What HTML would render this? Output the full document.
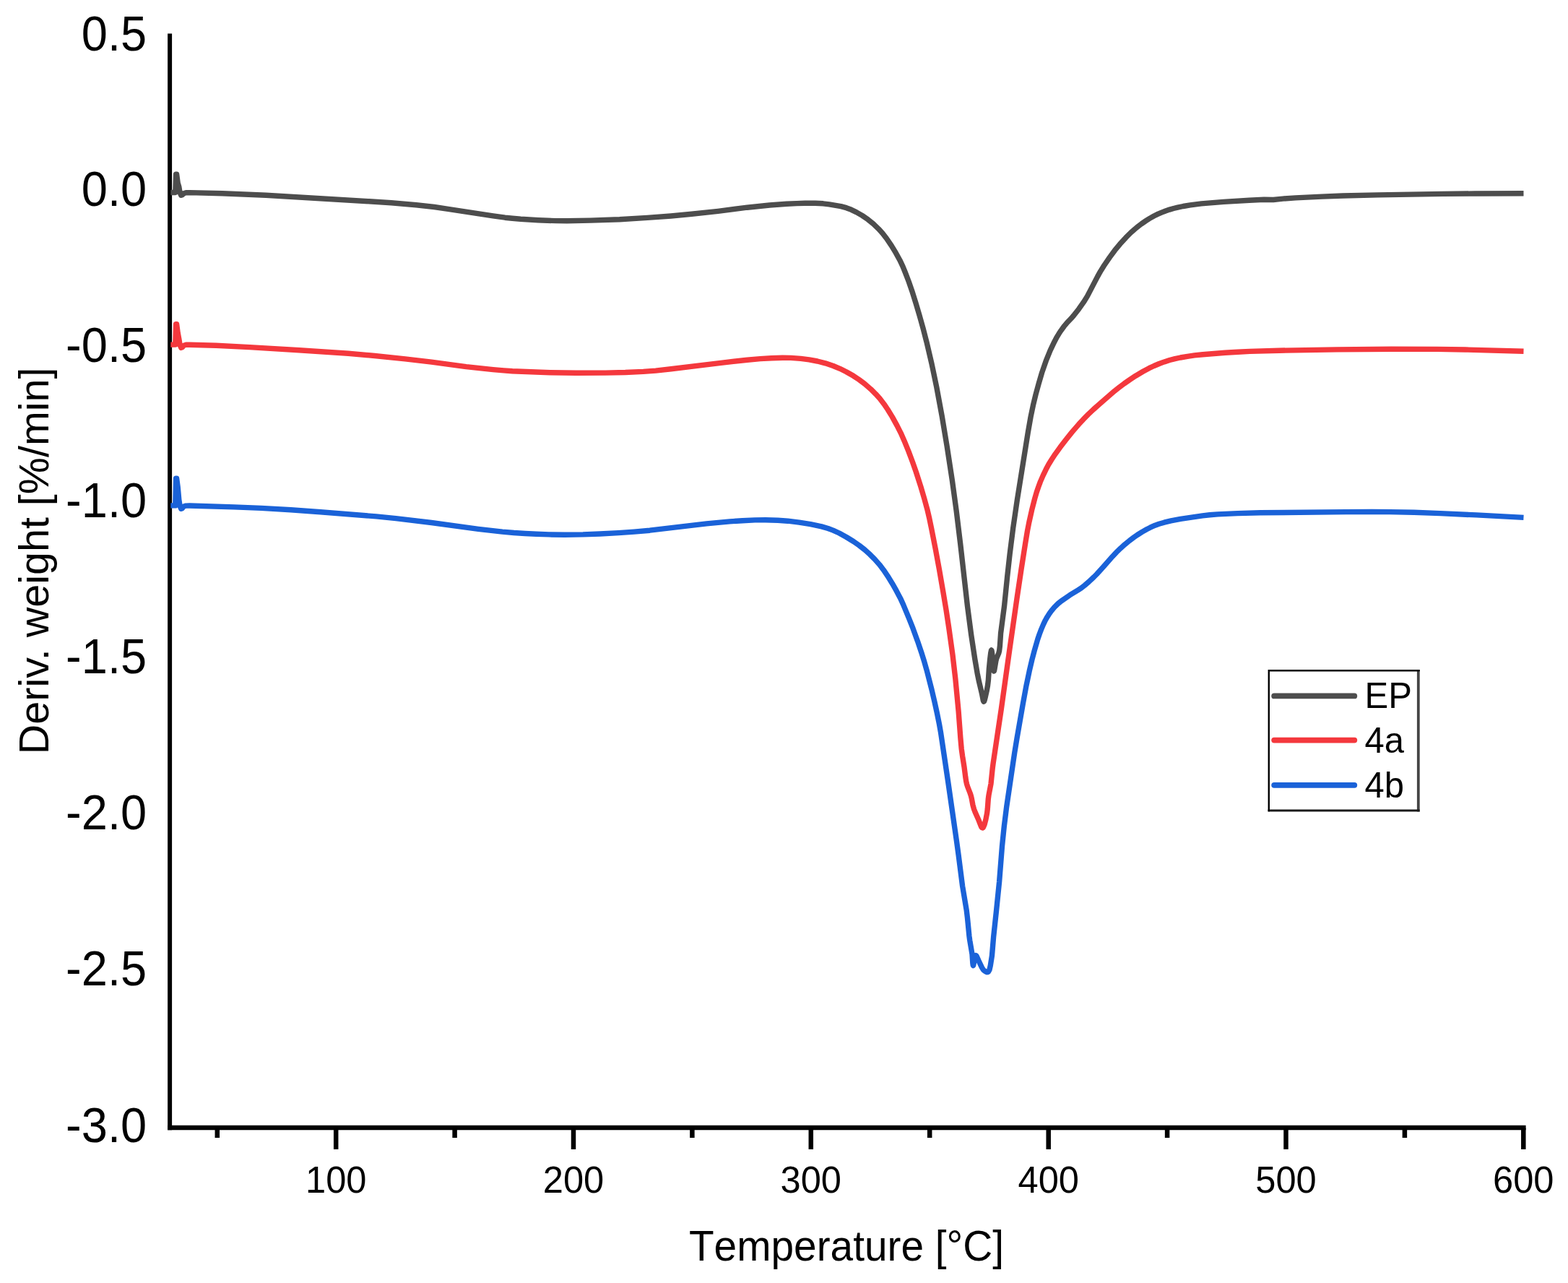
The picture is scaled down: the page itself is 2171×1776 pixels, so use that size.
<!DOCTYPE html>
<html lang="en">
<head>
<meta charset="utf-8">
<title>DTG curves: Deriv. weight vs Temperature</title>
<style>
html,body{margin:0;padding:0;background:#fff;}
body{width:2171px;height:1776px;overflow:hidden;}
svg{display:block;}
text{font-family:"Liberation Sans", sans-serif;fill:#000;}
.yt{font-size:65.0px;text-anchor:end;}
.xt{font-size:50.6px;text-anchor:middle;}
.ttl{font-size:57.5px;text-anchor:middle;}
.xttl{font-size:56.8px;font-kerning:none;font-feature-settings:"kern" 0;}
.lg{font-size:49.0px;}
.c{fill:none;stroke-width:7.4;stroke-linejoin:round;stroke-linecap:butt;}
</style>
</head>
<body>
<svg width="2171" height="1776" viewBox="0 0 2171 1776">
<rect x="0" y="0" width="2171" height="1776" fill="#ffffff"/>
<g id="axes" stroke="#000" stroke-width="6.0" fill="none" stroke-linecap="butt">
<path d="M235.1 46.6 V1564.3"/>
<path stroke-width="6.5" d="M232.1 1561.1 H2112.6"/>
<path stroke-width="6.5" d="M465.2 1561.1 V1590.9"/>
<path stroke-width="6.5" d="M794.0 1561.1 V1590.9"/>
<path stroke-width="6.5" d="M1122.8 1561.1 V1590.9"/>
<path stroke-width="6.5" d="M1451.7 1561.1 V1590.9"/>
<path stroke-width="6.5" d="M1780.5 1561.1 V1590.9"/>
<path stroke-width="6.5" d="M2109.3 1561.1 V1590.9"/>
<path stroke-width="6.5" d="M300.8 1561.1 V1575.0"/>
<path stroke-width="6.5" d="M629.6 1561.1 V1575.0"/>
<path stroke-width="6.5" d="M958.4 1561.1 V1575.0"/>
<path stroke-width="6.5" d="M1287.2 1561.1 V1575.0"/>
<path stroke-width="6.5" d="M1616.1 1561.1 V1575.0"/>
<path stroke-width="6.5" d="M1944.9 1561.1 V1575.0"/>
</g>
<g id="curves">
<path class="c" stroke="#4d4d4d" d="M236.3 266.5L242.8 266.5L243.6 241.3L244.6 241.3L246.2 253.3L247.8 258.5L249.2 266.8L250.7 270.3L252.3 269.7L254.5 267.7L257.5 266.7L262.4 266.6L307.8 267.7L368.2 270.2L511.1 278.8L541.8 280.8L576.3 283.8L601.3 286.5L620.4 289.3L682.7 298.9L699.2 301.2L709.4 302.2L720.9 303.2L745.0 304.7L758.0 305.3L769.3 305.6L784.9 305.7L817.6 305.1L857.9 303.7L896.3 301.4L929.0 299.0L957.7 296.3L994.2 292.4L1034.5 287.2L1065.5 284.0L1089.2 282.2L1103.1 281.6L1114.5 281.3L1128.7 281.2L1139.6 281.8L1148.1 282.8L1164.3 285.7L1171.8 287.7L1178.7 290.3L1185.5 293.6L1193.8 298.4L1201.7 303.8L1209.2 309.9L1216.4 316.8L1221.8 322.7L1227.6 330.2L1234.3 340.1L1240.4 350.2L1245.9 360.2L1250.0 368.9L1253.5 377.5L1258.3 390.0L1262.7 402.7L1268.1 419.8L1273.1 436.7L1278.0 454.3L1282.9 473.2L1290.1 503.9L1296.8 536.0L1304.3 576.5L1311.1 617.3L1318.3 664.4L1324.2 707.6L1329.7 752.7L1339.5 839.2L1344.7 878.8L1349.8 912.4L1353.1 931.7L1355.5 943.4L1359.7 961.2L1361.3 969.5L1361.7 970.7L1362.1 971.2L1362.7 970.6L1363.2 969.0L1364.4 964.3L1366.1 956.8L1367.5 949.0L1368.4 941.5L1369.3 926.9L1370.6 913.3L1371.7 904.1L1372.5 900.3L1372.7 900.0L1373.0 900.4L1373.5 903.3L1374.7 913.9L1375.6 925.7L1376.0 928.6L1376.2 929.0L1376.5 928.4L1376.9 926.7L1378.9 915.0L1379.7 911.7L1382.8 904.2L1383.6 900.9L1384.4 894.2L1385.6 876.4L1390.5 839.3L1394.7 797.9L1398.2 766.4L1402.7 730.9L1408.4 691.8L1423.3 598.6L1427.1 577.0L1430.4 561.2L1434.1 545.9L1438.1 531.2L1442.6 515.9L1448.2 499.7L1454.1 485.1L1459.8 473.2L1463.3 466.6L1466.2 461.8L1469.2 457.3L1473.4 451.5L1476.9 447.3L1483.1 440.8L1486.8 436.5L1493.7 427.7L1500.4 418.2L1505.4 410.1L1519.6 382.9L1523.5 375.9L1528.7 367.5L1536.3 356.4L1543.4 346.7L1550.7 337.8L1558.8 328.9L1565.7 322.0L1571.4 317.0L1575.8 313.4L1580.4 309.9L1586.6 305.6L1591.3 302.6L1597.7 299.0L1603.0 296.4L1608.3 294.1L1613.8 292.0L1619.4 290.1L1624.9 288.5L1630.6 287.1L1638.3 285.5L1648.0 283.9L1655.7 282.8L1663.4 281.9L1694.3 279.4L1729.7 277.2L1750.1 276.3L1763.0 276.5L1776.0 275.1L1793.8 273.9L1830.3 272.1L1859.0 271.0L1907.4 269.9L1997.6 268.4L2042.2 268.0L2109.5 267.8"/>
<path class="c" stroke="#f4383d" d="M236.3 477.1L242.8 477.1L243.6 448.7L244.6 448.7L246.2 460.7L247.8 469.1L249.2 477.9L250.7 481.4L252.3 480.8L254.5 478.3L257.5 477.3L262.4 477.2L299.1 478.3L345.8 480.6L414.2 484.7L482.2 489.3L518.8 492.5L561.0 496.9L597.4 501.1L645.4 507.6L682.7 511.6L697.5 512.9L709.4 513.7L748.3 515.3L761.7 515.7L797.4 516.2L838.4 516.1L865.8 515.5L890.7 514.4L907.8 513.1L929.0 510.8L998.1 502.3L1034.6 498.2L1052.6 496.6L1068.2 495.7L1083.5 495.2L1095.0 495.4L1108.6 496.4L1120.3 497.9L1131.7 500.0L1142.8 502.8L1153.7 506.5L1162.9 510.3L1171.8 514.7L1181.6 520.3L1189.4 525.5L1197.1 531.3L1205.7 538.7L1212.6 545.6L1218.0 551.6L1223.9 559.2L1229.2 567.0L1235.4 577.1L1242.0 589.1L1247.3 599.6L1252.1 610.4L1258.0 624.9L1263.4 639.2L1268.4 653.5L1274.8 673.4L1279.7 690.0L1283.8 704.9L1286.9 718.2L1289.7 731.7L1295.4 760.8L1300.4 787.9L1305.8 819.2L1310.1 844.9L1313.7 868.6L1318.9 905.8L1322.8 939.2L1327.1 984.4L1329.9 1021.9L1331.2 1036.4L1332.6 1046.6L1335.0 1061.6L1336.8 1075.6L1337.7 1081.5L1338.5 1085.1L1339.7 1089.0L1343.2 1098.0L1344.4 1101.6L1345.3 1105.3L1347.0 1114.5L1348.5 1120.0L1350.6 1125.3L1354.6 1134.2L1358.0 1142.9L1358.8 1144.6L1359.6 1145.6L1360.4 1146.0L1361.1 1145.6L1361.7 1144.7L1363.1 1141.3L1364.9 1134.4L1366.6 1125.6L1367.3 1119.8L1368.3 1105.9L1369.1 1100.1L1372.0 1085.1L1374.2 1063.6L1375.2 1055.9L1386.2 982.4L1397.8 899.6L1407.9 829.1L1414.0 788.1L1419.9 750.6L1422.5 734.9L1424.8 723.1L1428.7 705.7L1432.6 690.5L1435.2 681.5L1437.6 674.5L1440.4 666.9L1444.2 658.1L1448.2 649.8L1451.8 643.0L1455.8 636.5L1461.2 628.3L1467.7 619.3L1476.0 608.5L1484.5 597.9L1493.4 587.6L1500.0 580.4L1506.9 573.4L1514.1 566.6L1523.0 558.8L1543.1 541.3L1549.0 536.7L1556.7 530.9L1564.6 525.4L1572.5 520.2L1582.5 514.3L1591.0 509.7L1597.8 506.5L1604.9 503.5L1612.0 500.9L1619.4 498.5L1626.8 496.6L1634.4 495.0L1644.1 493.3L1653.8 491.9L1665.3 490.7L1696.2 488.3L1713.6 487.2L1730.5 486.4L1771.0 485.2L1851.3 483.9L1926.4 483.2L1990.3 483.4L2029.0 484.0L2109.5 486.3"/>
<path class="c" stroke="#1a62d8" d="M236.3 699.9L242.8 699.9L243.6 662.2L244.6 662.2L246.2 674.2L247.8 691.9L249.2 700.8L250.7 704.3L252.3 703.7L254.5 701.1L257.5 700.1L262.4 700.0L324.1 701.9L361.8 703.4L402.7 705.7L443.8 708.7L521.0 714.9L548.2 717.6L597.4 723.5L662.3 732.3L695.6 736.1L711.5 737.5L726.9 738.5L742.6 739.3L760.0 739.9L781.7 740.2L807.2 739.9L830.8 739.0L856.4 737.6L878.0 736.1L899.6 734.2L978.3 724.9L1010.4 721.9L1027.9 720.7L1045.2 719.9L1059.8 719.8L1077.0 720.2L1090.7 721.2L1106.5 723.1L1122.3 725.7L1137.5 728.9L1146.5 731.5L1153.5 734.1L1162.0 738.0L1171.9 743.5L1181.7 749.5L1189.6 755.0L1197.3 761.0L1204.3 767.3L1211.1 774.1L1217.7 781.6L1223.5 789.2L1229.0 797.3L1235.4 807.7L1241.2 817.9L1246.5 827.9L1250.5 836.6L1258.4 855.6L1264.0 869.7L1270.6 887.9L1276.3 904.8L1279.9 916.4L1283.1 927.7L1290.1 955.0L1294.1 972.2L1297.5 987.6L1300.5 1002.5L1302.5 1013.8L1312.8 1083.1L1324.4 1163.7L1327.1 1183.4L1332.6 1226.5L1338.2 1259.9L1339.4 1269.9L1341.9 1295.4L1342.7 1301.5L1346.0 1320.8L1346.8 1333.0L1347.2 1336.0L1347.5 1336.5L1347.8 1335.9L1349.9 1324.8L1350.4 1323.2L1351.0 1322.5L1351.7 1322.9L1352.5 1324.2L1355.1 1330.1L1359.3 1338.9L1361.1 1342.0L1362.1 1343.1L1363.5 1344.2L1365.1 1345.2L1366.7 1345.7L1368.0 1345.5L1368.7 1344.9L1370.0 1342.4L1371.3 1336.6L1373.5 1322.6L1375.6 1297.2L1379.4 1261.9L1383.6 1220.6L1387.5 1171.3L1390.3 1143.9L1393.7 1116.6L1404.7 1042.3L1408.0 1022.1L1416.4 973.9L1421.0 948.9L1425.2 928.9L1428.9 913.1L1432.3 900.3L1436.8 884.8L1439.2 877.7L1441.7 871.1L1444.8 863.9L1447.3 858.7L1450.0 853.9L1453.0 849.2L1456.3 844.8L1459.8 840.6L1465.0 835.5L1469.2 832.1L1481.4 823.7L1492.6 816.8L1497.2 813.8L1501.7 810.3L1507.5 805.4L1514.3 799.0L1518.3 795.0L1529.8 782.3L1540.2 770.4L1545.8 764.4L1551.5 758.9L1557.5 753.6L1563.7 748.5L1570.0 743.8L1574.7 740.5L1581.2 736.4L1587.6 732.7L1592.6 730.2L1599.3 727.2L1604.7 725.3L1611.9 723.2L1621.3 720.9L1634.5 718.3L1665.0 713.9L1674.9 712.8L1685.9 711.9L1713.6 710.6L1744.8 709.8L1863.8 708.6L1899.2 708.5L1924.3 708.6L1957.8 709.2L1994.1 710.6L2044.2 712.9L2109.5 716.4"/>
</g>
<g id="ylabels">
<text class="yt" transform="translate(203.1 69.8) scale(1 1.045)">0.5</text>
<text class="yt" transform="translate(203.1 284.5) scale(1 1.045)">0.0</text>
<text class="yt" transform="translate(203.1 500.6) scale(1 1.045)">-0.5</text>
<text class="yt" transform="translate(203.1 716.2) scale(1 1.045)">-1.0</text>
<text class="yt" transform="translate(203.1 931.8) scale(1 1.045)">-1.5</text>
<text class="yt" transform="translate(203.1 1148.0) scale(1 1.045)">-2.0</text>
<text class="yt" transform="translate(203.1 1364.3) scale(1 1.045)">-2.5</text>
<text class="yt" transform="translate(203.1 1580.7) scale(1 1.045)">-3.0</text>
</g>
<g id="xlabels">
<text class="xt" transform="translate(465.2 1651.0) scale(1 1.040)">100</text>
<text class="xt" transform="translate(794.0 1651.0) scale(1 1.040)">200</text>
<text class="xt" transform="translate(1122.8 1651.0) scale(1 1.040)">300</text>
<text class="xt" transform="translate(1451.7 1651.0) scale(1 1.040)">400</text>
<text class="xt" transform="translate(1780.5 1651.0) scale(1 1.040)">500</text>
<text class="xt" transform="translate(2109.3 1651.0) scale(1 1.040)">600</text>
</g>
<text class="ttl xttl" transform="translate(1172.0 1744.6) scale(1 1.040)">Temperature [°C]</text>
<text class="ttl" transform="translate(67.2 776.3) rotate(-90) scale(1 1.000)">Deriv. weight [%/min]</text>
<g id="legend">
<rect x="1756" y="927.5" width="209" height="195" fill="#fff"/>
<path d="M1963.8 927.1 V1123.4" stroke="#444" stroke-width="3.8" fill="none"/>
<path d="M1755.6 1121.9 H1965.7" stroke="#1a1a1a" stroke-width="3.0" fill="none"/>
<path d="M1756.8 1123.3 V928.3 H1965.7" stroke="#000" stroke-width="2.4" fill="none" stroke-linejoin="miter"/>
<path d="M1764.2 963.4 H1875.3" stroke="#4d4d4d" stroke-width="7.8" stroke-linecap="round" fill="none"/>
<text class="lg" transform="translate(1889.5 979.9) scale(1 1.030)">EP</text>
<path d="M1764.2 1024.6 H1875.3" stroke="#f4383d" stroke-width="7.8" stroke-linecap="round" fill="none"/>
<text class="lg" transform="translate(1889.5 1041.9) scale(1 1.030)">4a</text>
<path d="M1764.2 1086.8 H1875.3" stroke="#1a62d8" stroke-width="7.8" stroke-linecap="round" fill="none"/>
<text class="lg" transform="translate(1889.5 1103.8) scale(1 1.030)">4b</text>
</g>
</svg>
</body>
</html>
